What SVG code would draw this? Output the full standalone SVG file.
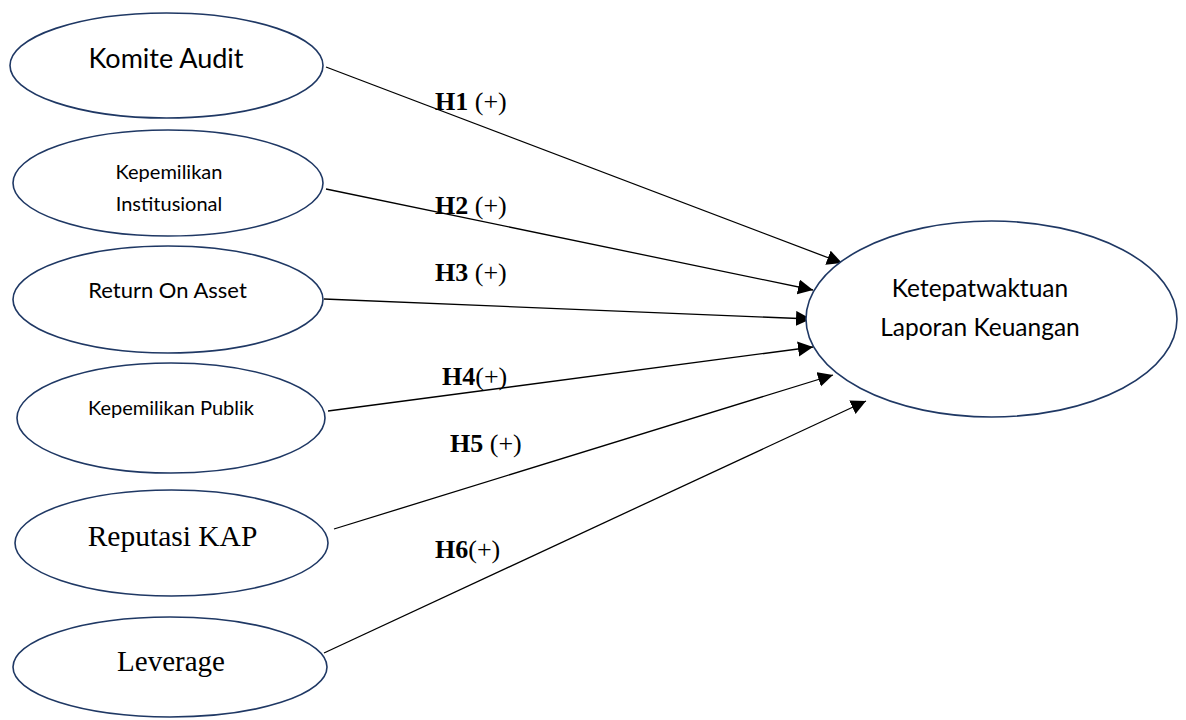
<svg xmlns="http://www.w3.org/2000/svg" width="1186" height="720" viewBox="0 0 1186 720">
  <style>
    .node { fill: #ffffff; stroke: #1f3864; stroke-width: 1.6; }
    .sans { font-family: Lato, "Open Sans", "Liberation Sans", sans-serif; fill: #000000; text-anchor: middle; }
    .serif { font-family: "Liberation Serif", "DejaVu Serif", serif; fill: #000000; }
    .conn { stroke: #000000; stroke-width: 1.3; fill: none; marker-end: url(#arrow); }
    .lbl { font-family: "Liberation Serif", "DejaVu Serif", serif; font-size: 26px; fill: #000000; }
    .b { font-weight: bold; }
  </style>
  <defs>
    <marker id="arrow" markerUnits="userSpaceOnUse" markerWidth="16" markerHeight="16" viewBox="0 0 16 16" refX="15" refY="7.5" orient="auto">
      <path d="M0,0 L15,7.5 L0,15 z" fill="#000000"/>
    </marker>
  </defs>
  <rect width="1186" height="720" fill="#ffffff"/>

  <g id="connectors">
    <line class="conn" x1="326" y1="67" x2="842" y2="263"/>
    <line class="conn" x1="326" y1="189" x2="813" y2="290"/>
    <line class="conn" x1="324" y1="299" x2="811" y2="319"/>
    <line class="conn" x1="328" y1="411" x2="813" y2="347"/>
    <line class="conn" x1="334" y1="529" x2="833" y2="375"/>
    <line class="conn" x1="324" y1="653" x2="866" y2="401"/>
  </g>

  <g id="labels">
    <text class="lbl" x="435" y="110"><tspan class="b">H1</tspan> (+)</text>
    <text class="lbl" x="435" y="214"><tspan class="b">H2</tspan> (+)</text>
    <text class="lbl" x="435" y="281"><tspan class="b">H3</tspan> (+)</text>
    <text class="lbl" x="442" y="385"><tspan class="b">H4</tspan>(+)</text>
    <text class="lbl" x="450" y="452"><tspan class="b">H5</tspan> (+)</text>
    <text class="lbl" x="435" y="558"><tspan class="b">H6</tspan>(+)</text>
  </g>

  <g id="komite-audit">
    <ellipse class="node" cx="166.5" cy="65.5" rx="156.5" ry="52.5"/>
    <text class="sans" x="166" y="68" font-size="27">Komite Audit</text>
  </g>
  <g id="kepemilikan-institusional">
    <ellipse class="node" cx="168" cy="183" rx="155" ry="53"/>
    <text class="sans" x="169" y="179" font-size="20">Kepemilikan</text>
    <text class="sans" x="169" y="211" font-size="20">Institusional</text>
  </g>
  <g id="return-on-asset">
    <ellipse class="node" cx="168" cy="299.5" rx="155" ry="53.5"/>
    <text class="sans" x="167.5" y="298" font-size="22">Return On Asset</text>
  </g>
  <g id="kepemilikan-publik">
    <ellipse class="node" cx="171" cy="418" rx="154" ry="55"/>
    <text class="sans" x="171" y="415" font-size="20">Kepemilikan Publik</text>
  </g>
  <g id="reputasi-kap">
    <ellipse class="node" cx="171.5" cy="543" rx="156.5" ry="53"/>
    <text class="serif" x="172.5" y="546" font-size="29.5" text-anchor="middle">Reputasi KAP</text>
  </g>
  <g id="leverage">
    <ellipse class="node" cx="170" cy="667" rx="157" ry="50"/>
    <text class="serif" x="171" y="671" font-size="29" text-anchor="middle">Leverage</text>
  </g>
  <g id="ketepatwaktuan">
    <ellipse class="node" cx="991.5" cy="319" rx="185.5" ry="98"/>
    <text class="sans" x="980" y="297" font-size="24.5">Ketepatwaktuan</text>
    <text class="sans" x="980" y="336" font-size="24.5">Laporan Keuangan</text>
  </g>
</svg>
